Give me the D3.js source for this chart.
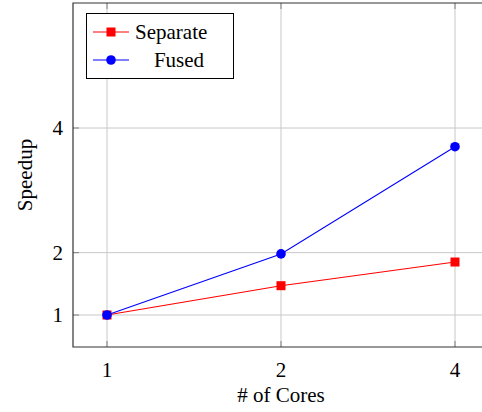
<!DOCTYPE html>
<html>
<head>
<meta charset="utf-8">
<script src="https://cdn.jsdelivr.net/npm/d3@7"></script>
<style>
  body { margin: 0; background: #fff; }
  text { font-family: "Liberation Serif", "DejaVu Serif", serif; fill: #000; }
</style>
</head>
<body>
<div id="chart"></div>
<script>
// data
var cores = [1, 2, 4];
var separate = [1, 1.47, 1.85];
var fused = [1, 1.98, 3.70];
var yTicks = [1, 2, 4];

var W = 482, H = 412;
var box = {left: 73, top: 3, bottom: 347, right: 520};
var fs = 21;

var svg = d3.select("#chart").append("svg")
	.attr("width", W)
	.attr("height", H);

var x = d3.scaleLog().base(2).domain([1, 4]).range([107, 455]);
var y = d3.scaleLinear().domain([1, 4]).range([315, 128]);

// grid
svg.selectAll(".gx").data(cores).enter().append("line")
	.attr("x1", d => x(d)).attr("x2", d => x(d))
	.attr("y1", box.top).attr("y2", box.bottom)
	.attr("stroke", "#c8c8c8").attr("stroke-width", 1);
svg.selectAll(".gy").data(yTicks).enter().append("line")
	.attr("x1", box.left).attr("x2", box.right)
	.attr("y1", d => y(d)).attr("y2", d => y(d))
	.attr("stroke", "#c8c8c8").attr("stroke-width", 1);

// ticks (inside)
svg.selectAll(".tx").data(cores).enter().append("g").each(function(d) {
	var g = d3.select(this);
	g.append("line").attr("x1", x(d)).attr("x2", x(d)).attr("y1", box.bottom).attr("y2", box.bottom - 6)
		.attr("stroke", "#808080");
	g.append("line").attr("x1", x(d)).attr("x2", x(d)).attr("y1", box.top).attr("y2", box.top + 6)
		.attr("stroke", "#808080");
});
svg.selectAll(".ty").data(yTicks).enter().append("line")
	.attr("x1", box.left).attr("x2", box.left + 6)
	.attr("y1", d => y(d)).attr("y2", d => y(d))
	.attr("stroke", "#808080");

// frame (right side is cut off)
svg.append("path")
	.attr("d", "M" + box.right + "," + box.top + "H" + box.left + "V" + box.bottom + "H" + box.right)
	.attr("fill", "none").attr("stroke", "#333").attr("stroke-width", 1.2);

// tick labels
svg.selectAll(".lx").data(cores).enter().append("text")
	.attr("x", d => x(d)).attr("y", 377)
	.attr("text-anchor", "middle").attr("font-size", fs)
	.text(d => d);
svg.selectAll(".ly").data(yTicks).enter().append("text")
	.attr("x", 63).attr("y", d => y(d) + 7)
	.attr("text-anchor", "end").attr("font-size", fs)
	.text(d => d);

// axis titles
svg.append("text")
	.attr("x", x(2)).attr("y", 402)
	.attr("text-anchor", "middle").attr("font-size", fs)
	.text("# of Cores");
svg.append("text")
	.attr("transform", "translate(32," + 175 + ") rotate(-90)")
	.attr("text-anchor", "middle").attr("font-size", fs)
	.text("Speedup");

// series
var line = d3.line().x(d => x(d[0])).y(d => y(d[1]));
var sepPts = cores.map((c, i) => [c, separate[i]]);
var fusPts = cores.map((c, i) => [c, fused[i]]);

svg.append("path").datum(sepPts).attr("d", line)
	.attr("fill", "none").attr("stroke", "red").attr("stroke-width", 1.1);
svg.append("path").datum(fusPts).attr("d", line)
	.attr("fill", "none").attr("stroke", "blue").attr("stroke-width", 1.1);

svg.selectAll(".ms").data(sepPts).enter().append("rect")
	.attr("x", d => x(d[0]) - 4.5).attr("y", d => y(d[1]) - 4.5)
	.attr("width", 9).attr("height", 9).attr("fill", "red");
svg.selectAll(".mf").data(fusPts).enter().append("circle")
	.attr("cx", d => x(d[0])).attr("cy", d => y(d[1]))
	.attr("r", 4.8).attr("fill", "blue");

// legend
var leg = svg.append("g");
leg.append("rect").attr("x", 86.5).attr("y", 13.5).attr("width", 147).attr("height", 65)
	.attr("fill", "#fff").attr("stroke", "#000").attr("stroke-width", 1);
leg.append("line").attr("x1", 93).attr("x2", 129).attr("y1", 32).attr("y2", 32)
	.attr("stroke", "red").attr("stroke-width", 1.1);
leg.append("rect").attr("x", 106.5).attr("y", 27.5).attr("width", 9).attr("height", 9).attr("fill", "red");
leg.append("text").attr("x", 135).attr("y", 39).attr("font-size", fs).text("Separate");
leg.append("line").attr("x1", 93).attr("x2", 129).attr("y1", 60).attr("y2", 60)
	.attr("stroke", "blue").attr("stroke-width", 1.1);
leg.append("circle").attr("cx", 111).attr("cy", 60).attr("r", 4.8).attr("fill", "blue");
leg.append("text").attr("x", 179).attr("y", 67).attr("text-anchor", "middle").attr("font-size", fs).text("Fused");
</script>
</body>
</html>
